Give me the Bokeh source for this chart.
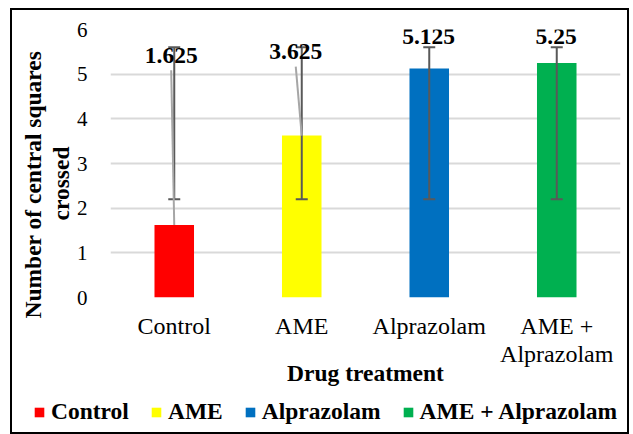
from bokeh.plotting import figure
from bokeh.layouts import column
from bokeh.models import FixedTicker, Legend, LegendItem, Range1d, Title
from bokeh.core.properties import value
from bokeh.embed import file_html
from bokeh.resources import INLINE

# ---- data ----
categories = ["Control", "AME", "Alprazolam", "AME + Alprazolam"]
tick_labels = ["Control", "AME", "Alprazolam", "AME +\nAlprazolam"]
means = [1.625, 3.625, 5.125, 5.25]
value_labels = ["1.625", "3.625", "5.125", "5.25"]
err_lower = [2.2, 2.2, 2.2, 2.2]
err_upper = [5.6, 5.6, 5.6, 5.6]
colors = ["#FF0000", "#FFFF00", "#0070C0", "#00B050"]
y_ticks = [0, 1, 2, 3, 4, 5, 6]
y_title_lines = ["Number of central squares", "crossed"]

# ---- layout helpers (placement only, not data) ----
label_y = [5.42, 5.50, 5.84, 5.84]
label_dx = [-0.024, -0.047, -0.005, -0.005]
y_title_offsets = [-21, 77]   # px from the bottom of the plot area

SERIF = "Liberation Serif"
n = len(categories)
xs = [i + 0.5 for i in range(n)]

p = figure(width=619, height=386,
           x_range=Range1d(0, n), y_range=Range1d(0, 6),
           output_backend="svg", toolbar_location=None,
           min_border_top=21, min_border_left=100,
           min_border_right=9, min_border_bottom=97)
p.frame_align = False
p.outline_line_color = None
p.background_fill_color = "white"
p.border_fill_alpha = 0

# grid
p.xgrid.grid_line_color = None
p.ygrid.ticker = FixedTicker(ticks=y_ticks)
p.ygrid.grid_line_color = "#D9D9D9"
p.ygrid.grid_line_width = 2

# y axis
p.yaxis.ticker = FixedTicker(ticks=y_ticks)
p.yaxis.axis_line_color = None
p.yaxis.major_tick_line_color = None
p.yaxis.minor_tick_line_color = None
p.yaxis.major_label_standoff = 17
p.yaxis.major_label_text_font = SERIF
p.yaxis.major_label_text_font_size = "21px"
p.yaxis.major_label_text_color = "#000000"

# x axis
p.xaxis.ticker = FixedTicker(ticks=xs)
p.xaxis.major_label_overrides = {x: t for x, t in zip(xs, tick_labels)}
p.xaxis.axis_line_color = None
p.xaxis.major_tick_line_color = None
p.xaxis.minor_tick_line_color = None
p.xaxis.major_label_standoff = 9
p.xaxis.major_label_text_font = SERIF
p.xaxis.major_label_text_font_size = "24px"
p.xaxis.major_label_text_line_height = 1.1
p.xaxis.major_label_text_color = "#000000"
p.xaxis.axis_label = "Drug treatment"
p.xaxis.axis_label_text_font = SERIF
p.xaxis.axis_label_text_font_style = "bold"
p.xaxis.axis_label_text_font_size = "23.5px"
p.xaxis.axis_label_text_color = "#000000"
p.xaxis.axis_label_standoff = -10

# y-axis title: two single-line titles on the left (inner line first)
for line, off in reversed(list(zip(y_title_lines, y_title_offsets))):
    p.add_layout(Title(text=line, align="left", offset=off,
                       text_font=SERIF, text_font_style="bold", text_font_size="23.5px",
                       text_color="#000000", text_line_height=0.9, standoff=0), "left")

# bars
for i in range(n):
    p.vbar(x=[xs[i]], top=[means[i]], width=0.31,
           fill_color=colors[i], line_color=None)

# error bars
p.segment(x0=xs, y0=err_lower, x1=xs, y1=err_upper,
          line_color="#595959", line_width=2)
p.scatter(x=xs, y=err_upper, marker="dash", size=12,
          line_color="#595959", line_width=2)
p.scatter(x=xs, y=err_lower, marker="dash", size=12,
          line_color="#595959", line_width=2)

# leader lines for labels moved far from their bars
lx0, ly0, lx1, ly1 = [], [], [], []
for i in range(n):
    if label_y[i] - means[i] > 1.5:
        lx0.append(xs[i] + label_dx[i])
        ly0.append(label_y[i] - 0.33)
        lx1.append(xs[i])
        ly1.append(means[i])
p.segment(x0=lx0, y0=ly0, x1=lx1, y1=ly1, line_color="#A6A6A6", line_width=2)

# value labels
p.text(x=[x + d for x, d in zip(xs, label_dx)], y=label_y, text=value_labels,
       text_font=value(SERIF), text_font_style="bold", text_font_size="23.5px",
       text_color="#000000", text_align="center", text_baseline="middle")

# ---- legend strip (separate figure below the chart) ----
lg = figure(width=619, height=40, x_range=Range1d(0, 1), y_range=Range1d(0, 1),
            output_backend="svg", toolbar_location=None, min_border=0)
lg.frame_align = False
lg.axis.visible = False
lg.grid.visible = False
lg.outline_line_color = None
lg.background_fill_alpha = 0
lg.border_fill_alpha = 0
items = []
for i in range(n):
    # legend swatch proxies placed outside the visible range
    r = lg.vbar(x=[-5], top=[0], width=0.1, fill_color=colors[i], line_color=None)
    items.append(LegendItem(label=categories[i], renderers=[r]))
legend = Legend(items=items, orientation="horizontal", location=(23, 9),
                label_text_font=SERIF, label_text_font_style="bold",
                label_text_font_size="23.5px", label_text_color="#000000",
                glyph_width=12, glyph_height=12, label_standoff=6, spacing=21,
                padding=0, margin=0, border_line_color=None,
                background_fill_alpha=0)
lg.add_layout(legend)

layout = column(p, lg, spacing=0,
                styles={"outline": "2px solid #000000", "outline-offset": "-2px",
                        "background-color": "white", "margin": "8px 0px 0px 10px"})

open("out.html", "w").write(file_html(layout, INLINE))
